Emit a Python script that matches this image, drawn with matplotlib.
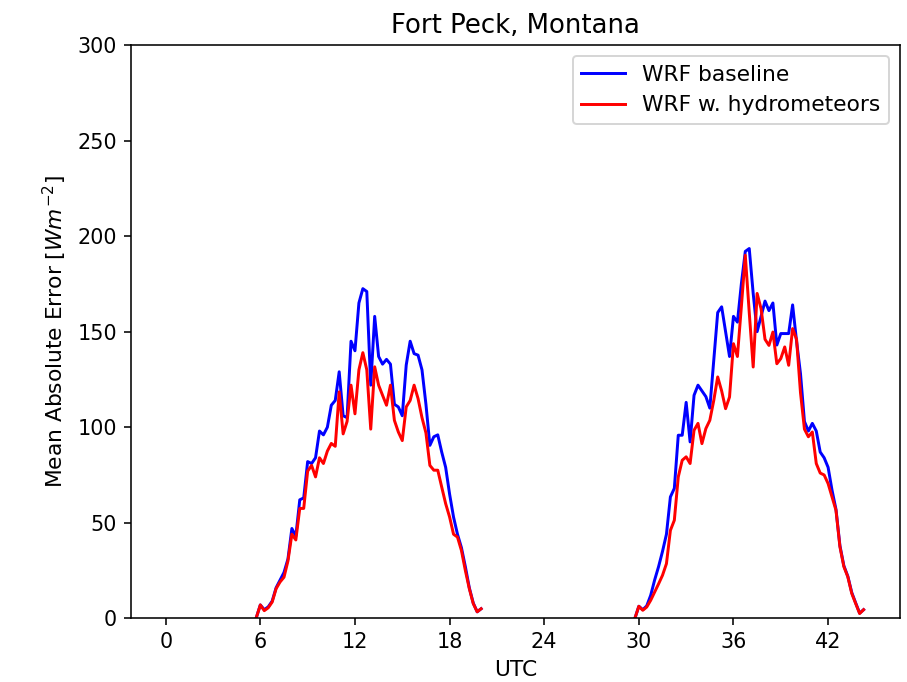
import numpy as np
import matplotlib
matplotlib.use("Agg")
import matplotlib.pyplot as plt

# 15-minute samples, daytime only (UTC hours)
t_day1 = np.arange(5.75, 20.01, 0.25)
t_day2 = np.arange(29.75, 44.26, 0.25)

base_day1 = [0.5, 7, 4.5, 6, 9, 16, 20, 24, 31, 47, 43, 62, 63, 82, 81, 84,
             98, 96, 100, 111.5, 114, 129, 106, 105, 145, 140, 165, 172.5, 171,
             122, 158, 137, 133, 135.5, 133, 112, 110.6, 106, 132.5, 145, 138.5,
             137.7, 130, 112, 90.5, 95, 96, 87, 79, 65, 53, 44, 37, 27, 16, 8,
             3.4, 5]
hydro_day1 = [0.5, 7, 4, 5.5, 8.5, 15.5, 19, 21.5, 30, 44, 41, 57.5, 57.5, 77,
              80, 74, 84, 81, 87.5, 91.5, 90, 118.5, 96.5, 103, 122, 107, 130,
              139, 130, 99, 131.6, 122, 116.7, 111.5, 122, 103.6, 97.5, 93,
              110.6, 114, 122, 115, 105, 97, 80, 77.5, 77.5, 68.7, 60, 53, 44,
              42.5, 35.5, 25, 15.5, 7.7, 3.4, 5]

base_day2 = [0, 6.3, 4.5, 6.5, 12, 20, 27, 35, 44, 63.5, 68, 95.8, 95.8, 113,
             92.3, 116.7, 122, 119, 116, 110, 135, 160, 163, 150, 137, 158, 155,
             175, 192, 193.5, 170, 150, 158, 166, 161, 165, 143, 149, 149, 149,
             164, 145, 128, 103, 98, 102, 98, 87, 84, 79, 67, 57, 38, 27.5, 22,
             13.5, 8, 2.7, 4.5]
hydro_day2 = [0, 6.3, 4.2, 5.9, 9.4, 13.7, 18, 22.5, 28.6, 46, 51.3, 74, 82.7,
              84.5, 81, 98.4, 102, 91.4, 99.3, 103.6, 114, 126.3, 119, 109.7,
              115.8, 143.7, 137, 163, 190, 160, 131.5, 170, 162, 146, 142.8,
              149.8, 133.2, 135.9, 142, 132.4, 151.6, 146, 118, 99, 95, 97.5,
              81, 76, 75, 70.5, 63.5, 56.5, 37.4, 27, 21.7, 13, 7.7, 2.5, 4.5]

t = np.concatenate([t_day1, [np.nan], t_day2])
base = np.concatenate([base_day1, [np.nan], base_day2])
hydro = np.concatenate([hydro_day1, [np.nan], hydro_day2])

fig = plt.figure(figsize=(907 / 142, 682 / 142), dpi=142)
ax = fig.add_axes([0.1441, 0.0934, 0.9923 - 0.1441, 0.934 - 0.0934])

ax.plot(t, base, color="blue", label="WRF baseline")
ax.plot(t, hydro, color="red", label="WRF w. hydrometeors")

ax.set_xlim(-2.22, 46.56)
ax.set_ylim(0, 300)
ax.set_xticks(np.arange(0, 43, 6))
ax.tick_params(labelsize=10.5)
ax.set_title("Fort Peck, Montana", fontsize=13.2)
ax.set_xlabel("UTC", fontsize=11)
ax.set_ylabel("Mean Absolute Error [$Wm^{-2}$]", fontsize=11)
ax.legend(loc="upper right", fontsize=11)

fig.savefig("out.png", dpi=142)
